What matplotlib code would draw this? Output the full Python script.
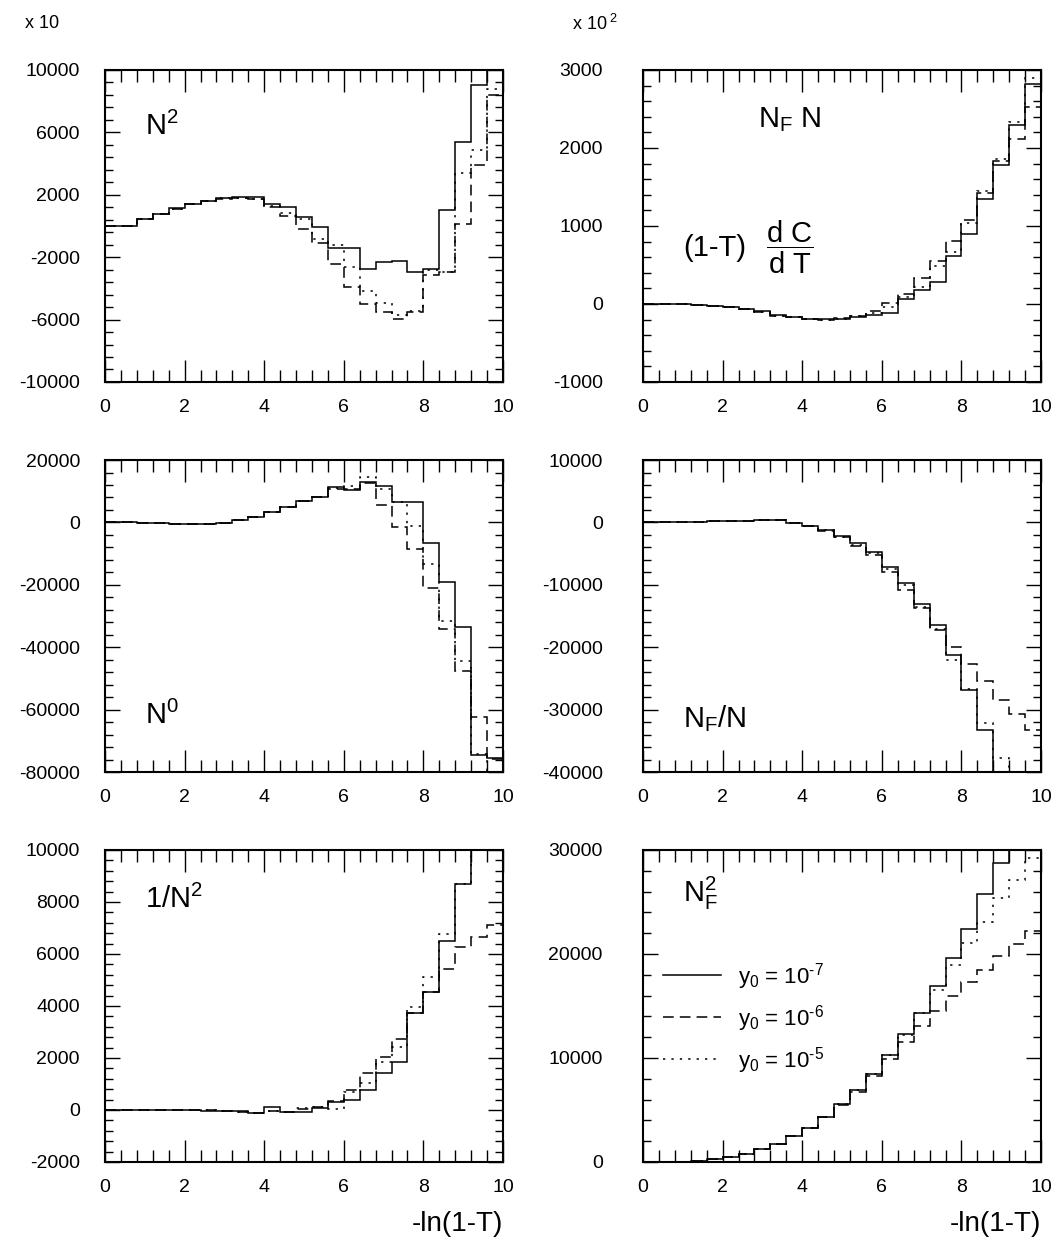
import numpy as np
import matplotlib
matplotlib.use('Agg')
import matplotlib.pyplot as plt
from matplotlib.ticker import FixedLocator

plt.rcParams['font.family'] = ['Liberation Sans', 'DejaVu Sans']
plt.rcParams['mathtext.fontset'] = 'custom'
plt.rcParams['mathtext.rm'] = 'Liberation Sans'
plt.rcParams['mathtext.it'] = 'Liberation Sans:italic'
plt.rcParams['axes.unicode_minus'] = False

# bin edges of -ln(1-T), 25 bins of 0.4
edges = np.linspace(0, 10, 26)

legend_labels = [r'$\mathregular{y_0}$ = 10$\mathregular{^{\text{-}7}}$',
                 r'$\mathregular{y_0}$ = 10$\mathregular{^{\text{-}6}}$',
                 r'$\mathregular{y_0}$ = 10$\mathregular{^{\text{-}5}}$']

# N^2  (x 10)
n2_y7 = [0, 0, 420, 760, 1120, 1400, 1610, 1800, 1830, 1860, 1440, 1230, 590, -40,
         -1440, -1400, -2750, -2330, -2260, -2980, -2730, 1020, 5400, 9020, 11500]
n2_y6 = [0, 0, 420, 760, 1110, 1380, 1590, 1760, 1780, 1700, 1230, 650, -225, -1120,
         -2450, -3900, -5020, -5510, -5940, -5510, -3150, -2960, 120, 3900, 8400]
n2_y5 = [0, 0, 420, 760, 1110, 1390, 1600, 1780, 1820, 1760, 1300, 800, 420, -840,
         -1230, -2660, -4180, -4970, -5720, -5440, -2800, -2960, 3370, 4900, 8800]

# N_F N  (x 10^2)
nfn_y7 = [0, 0, -4, -9, -21, -43, -64, -94, -146, -167, -189, -197, -189, -163,
          -137, -116, 69, 184, 287, 621, 891, 1341, 1779, 2293, 2820]
nfn_y6 = [0, 0, -4, -9, -21, -45, -66, -100, -150, -172, -192, -200, -185, -150,
          -94, 13, 129, 334, 549, 806, 1076, 1427, 1834, 2113, 2529]
nfn_y5 = [0, 0, -4, -9, -21, -45, -66, -100, -150, -172, -192, -200, -188, -160,
          -116, -39, 90, 219, 484, 664, 1033, 1449, 1864, 2336, 2897]

# N^0
n0_y7 = [0, 0, -100, -320, -535, -535, -535, -107, 750, 1820, 3420, 5020, 6950, 8240,
         11440, 10380, 12840, 11770, 6630, 6630, -6740, -19250, -33480, -74650, -75400]
n0_y6 = [0, 0, -100, -320, -535, -535, -535, -107, 650, 1700, 3300, 4900, 6800, 8000,
         10590, 10700, 12510, 5560, -1600, -8560, -20960, -34010, -47590, -62350, -75700]
n0_y5 = [0, 0, -100, -320, -535, -535, -535, -107, 700, 1750, 3350, 5000, 6900, 8200,
         11000, 11660, 14650, 10590, 6630, -1180, -13480, -31660, -44490, -74120, -85000]

# N_F / N
nfon_y7 = [0, 0, 0, 0, 210, 260, 300, 320, 320, -50, -590, -1230, -2190, -3370,
           -4760, -7110, -9680, -13100, -16470, -21290, -26790, -33210, -45000, -45000, -45000]
nfon_y6 = [0, 0, 0, 0, 210, 260, 300, 320, 310, -80, -650, -1330, -2400, -3700,
           -5240, -7920, -10860, -13690, -17170, -19950, -22620, -25400, -28400, -30650, -33210]
nfon_y5 = [0, 0, 0, 0, 210, 260, 300, 320, 315, -60, -620, -1280, -2300, -3550,
           -4900, -7490, -10060, -13530, -17010, -22090, -26630, -32140, -37700, -45000, -45000]

# 1/N^2
in2_y7 = [0, 0, 0, 0, 0, 0, -26, -26, -51, -103, 103, -77, -64, 90,
          308, 385, 769, 1436, 1833, 3743, 4551, 6513, 8680, 11000, 11000]
in2_y6 = [0, 0, 0, 0, 0, 0, -20, -30, -60, -100, -40, -70, 40, 120,
          350, 769, 1436, 2051, 2743, 3718, 4551, 5423, 6256, 6666, 7115]
in2_y5 = [0, 0, 0, 0, 0, 0, -20, -30, -60, -100, -50, -60, 60, 100,
          26, 705, 1030, 1860, 2410, 3970, 5100, 6780, 8680, 11000, 11000]

# N_F^2
nf2_y7 = [0, 0, 0, 96, 257, 482, 804, 1222, 1768, 2508, 3311, 4340, 5562, 6912,
          8423, 10256, 12313, 14371, 16879, 19579, 22409, 25720, 28710, 31500, 31500]
nf2_y6 = [0, 0, 0, 96, 257, 482, 804, 1222, 1768, 2508, 3311, 4300, 5466, 6687,
          8295, 9870, 11510, 13085, 14468, 15914, 17265, 18486, 19837, 20962, 22248]
nf2_y5 = [0, 0, 0, 96, 257, 482, 804, 1222, 1768, 2508, 3311, 4340, 5562, 6912,
          8423, 10256, 12217, 14307, 16493, 18904, 21058, 23116, 25366, 27070, 29192]

styles = ['-', (0, (7, 4)), (0, (1.5, 4))]

fig = plt.figure(figsize=(10.55, 12.45), dpi=100)

col_x = [0.0995, 0.6095]
col_pad = [18, 29]
row_y = [0.6932, 0.3799, 0.0667]
w, h = 0.3773, 0.2506


def make_panel(col, row, series, ylim, major, minor):
    ax = fig.add_axes([col_x[col], row_y[row], w, h])
    for vals, ls in zip(series, styles):
        ax.stairs(vals, edges, baseline=None, color='black', linestyle=ls, linewidth=1.1)
    ax.set_xlim(0, 10)
    ax.set_ylim(*ylim)
    ax.xaxis.set_major_locator(FixedLocator(np.arange(0, 10.01, 2)))
    ax.xaxis.set_minor_locator(FixedLocator(np.arange(0, 10.01, 0.4)))
    ax.yaxis.set_major_locator(FixedLocator(np.arange(ylim[0], ylim[1] + 1, major)))
    ax.yaxis.set_minor_locator(FixedLocator(np.arange(ylim[0], ylim[1] + 1, minor)))
    ax.tick_params(axis='both', which='both', direction='in', top=True, right=True,
                   labelsize=14, width=1)
    ax.tick_params(axis='x', which='major', length=16, pad=12)
    ax.tick_params(axis='x', which='minor', length=8.5)
    ax.tick_params(axis='y', which='major', length=11, pad=col_pad[col])
    ax.tick_params(axis='y', which='minor', length=5.5)
    for s in ax.spines.values():
        s.set_linewidth(1.5)
    return ax


ax1 = make_panel(0, 0, [n2_y7, n2_y6, n2_y5], (-10000, 10000), 4000, 800)
ax2 = make_panel(1, 0, [nfn_y7, nfn_y6, nfn_y5], (-1000, 3000), 1000, 200)
ax3 = make_panel(0, 1, [n0_y7, n0_y6, n0_y5], (-80000, 20000), 20000, 4000)
ax4 = make_panel(1, 1, [nfon_y7, nfon_y6, nfon_y5], (-40000, 10000), 10000, 2000)
ax5 = make_panel(0, 2, [in2_y7, in2_y6, in2_y5], (-2000, 10000), 2000, 400)
ax6 = make_panel(1, 2, [nf2_y7, nf2_y6, nf2_y5], (0, 30000), 10000, 2000)

fs = 21
ax1.text(0.1, 0.82, r'$\mathregular{N^2}$', transform=ax1.transAxes, fontsize=fs, va='center')
ax2.text(0.29, 0.84, r'$\mathregular{N_F\ N}$', transform=ax2.transAxes, fontsize=fs, va='center')
ax2.text(0.1, 0.43, '(1-T)', transform=ax2.transAxes, fontsize=fs, va='center')
ax2.text(0.31, 0.43, r'$\mathregular{\dfrac{d\ C}{d\ T}}$', transform=ax2.transAxes,
         fontsize=fs, va='center')
ax3.text(0.1, 0.18, r'$\mathregular{N^0}$', transform=ax3.transAxes, fontsize=fs, va='center')
ax4.text(0.1, 0.17, r'$\mathregular{N_F/N}$', transform=ax4.transAxes, fontsize=fs, va='center')
ax5.text(0.1, 0.84, r'$\mathregular{1/N^2}$', transform=ax5.transAxes, fontsize=fs, va='center')
ax6.text(0.1, 0.86, r'$\mathregular{N_F^2}$', transform=ax6.transAxes, fontsize=fs, va='center')

ax6.legend(ax6.patches, legend_labels, loc='upper left',
           bbox_to_anchor=(0.05, 0.645), frameon=False, fontsize=16,
           handlelength=2.6, handletextpad=0.8, labelspacing=0.5,
           borderpad=0, borderaxespad=0)

for ax in (ax5, ax6):
    ax.text(1.0, -0.2, '-ln(1-T)', transform=ax.transAxes, fontsize=20,
            ha='right', va='center')

fig.text(0.024, 0.981, 'x 10', fontsize=13, va='center')
fig.text(0.542, 0.981, r'x 10$\mathregular{^{\ 2}}$', fontsize=13, va='center')

fig.savefig('out.png', dpi=100)
